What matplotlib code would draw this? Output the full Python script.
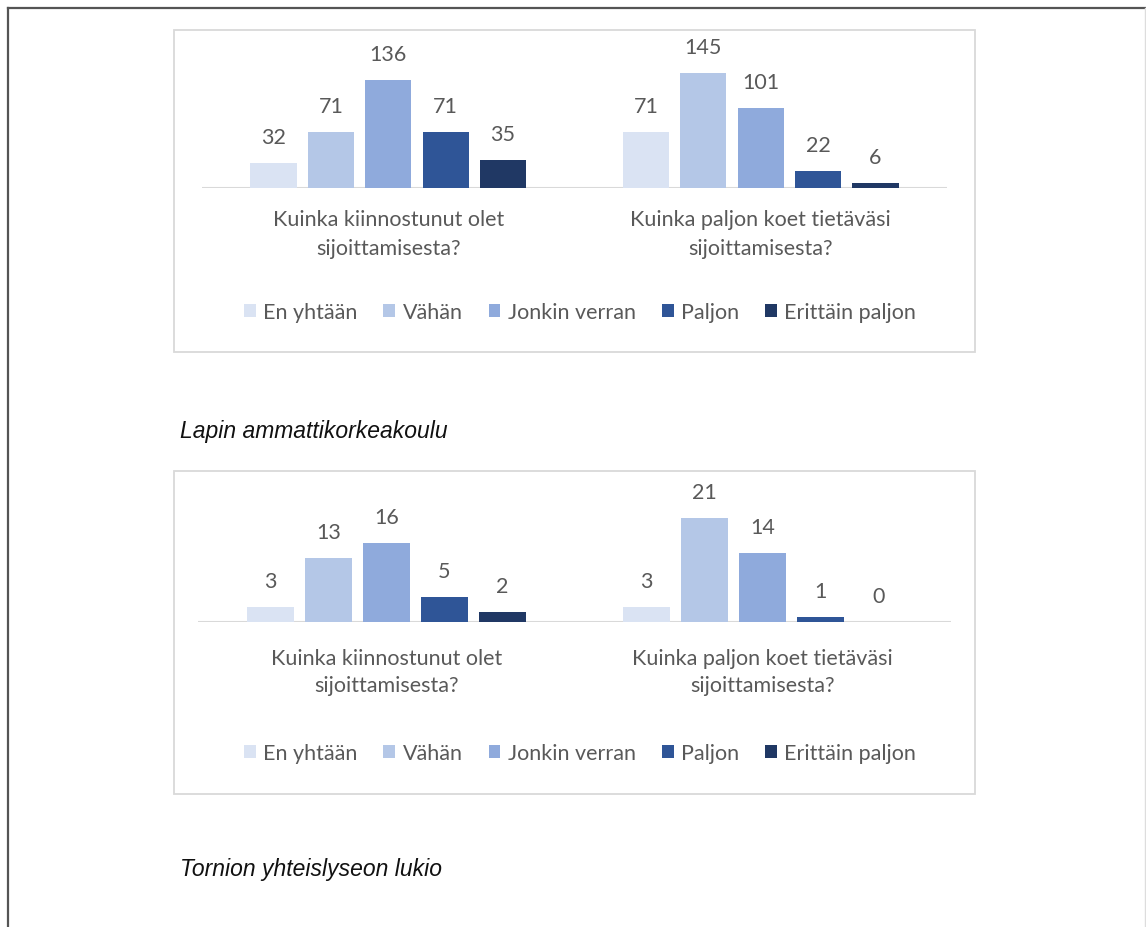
import matplotlib.pyplot as plt
from matplotlib.patches import Rectangle, Patch
from matplotlib.lines import Line2D

# survey answers, two questions per school
questions = ["Kuinka kiinnostunut olet\nsijoittamisesta?",
             "Kuinka paljon koet tietäväsi\nsijoittamisesta?"]
answers = ["En yhtään", "Vähän", "Jonkin verran", "Paljon", "Erittäin paljon"]
colors = ["#DAE3F3", "#B4C7E7", "#8FAADC", "#2F5597", "#203864"]

lapin_amk = [[32, 71, 136, 71, 35],
             [71, 145, 101, 22, 6]]
tornio_lukio = [[3, 13, 16, 5, 2],
                [3, 21, 14, 1, 0]]

captions = ["Lapin ammattikorkeakoulu", "Tornion yhteislyseon lukio"]

W, H = 1146, 928
fig = plt.figure(figsize=(W / 100, H / 100), dpi=100)
plt.rcParams['font.family'] = ['Lato', 'DejaVu Sans']
txt = "#595959"
fs = 15.5


def fx(px):
    return px / W


def fy(py):
    return 1 - py / H


# page border
fig.add_artist(Line2D([fx(8), fx(1146)], [fy(9), fy(9)], color="#555555", lw=1.6))
fig.add_artist(Line2D([fx(8), fx(8)], [fy(9), 0], color="#555555", lw=1.6))
fig.add_artist(Line2D([fx(1145), fx(1145)], [fy(9), 0], color="#DDDDDD", lw=1))


def chart(data, box_top, box_bot, base_y, top_y, x0, x1, ymax, lab_pad, lab_ls, leg_y):
    fig.add_artist(Rectangle((fx(174), fy(box_bot)), fx(975) - fx(174),
                             fy(box_top) - fy(box_bot), fill=False,
                             edgecolor="#D9D9D9", lw=1.3))
    ax = fig.add_axes([fx(x0), fy(base_y), fx(x1) - fx(x0), fy(top_y) - fy(base_y)])
    step = 0.154
    width = 0.124
    for i, name in enumerate(answers):
        xs = [g + (i - 2) * step for g in range(len(questions))]
        vals = [data[g][i] for g in range(len(questions))]
        bars = ax.bar(xs, vals, width, color=colors[i], label=name)
        for b, v in zip(bars, vals):
            ax.annotate(str(v), (b.get_x() + b.get_width() / 2, v),
                        xytext=(0, 16), textcoords="offset pixels",
                        ha="center", va="bottom", fontsize=fs, color=txt,
                        annotation_clip=False)
    ax.set_xlim(-0.5, 1.5)
    ax.set_ylim(0, ymax)
    ax.axis("off")
    ax.axhline(0, color="#D9D9D9", lw=1.5, zorder=0)
    for g, q in enumerate(questions):
        ax.annotate(q, (g, 0), xytext=(0, -lab_pad), textcoords="offset pixels",
                    ha="center", va="top", fontsize=fs, color=txt,
                    linespacing=lab_ls, annotation_clip=False)
    handles = [Patch(facecolor=c, label=a) for c, a in zip(colors, answers)]
    fig.legend(handles=handles, loc="center", ncol=5,
               bbox_to_anchor=(fx(580), fy(leg_y)), frameon=False,
               fontsize=fs, labelcolor=txt, handlelength=0.55, handleheight=0.55,
               handletextpad=0.35, columnspacing=1.2)


chart(lapin_amk, 31, 353, 189, 40, 202, 947, 149 / 0.793, 21, 1.55, 313)
chart(tornio_lukio, 472, 795, 623, 480, 198, 951, 143 / 4.95, 26, 1.45, 754)

fig.text(fx(180), fy(432), captions[0], style="italic", fontsize=16.5,
         family="Liberation Sans", va="center", ha="left", color="#111111")
fig.text(fx(180), fy(870), captions[1], style="italic", fontsize=16.5,
         family="Liberation Sans", va="center", ha="left", color="#111111")

fig.savefig("out.png", dpi=100, facecolor="white")
